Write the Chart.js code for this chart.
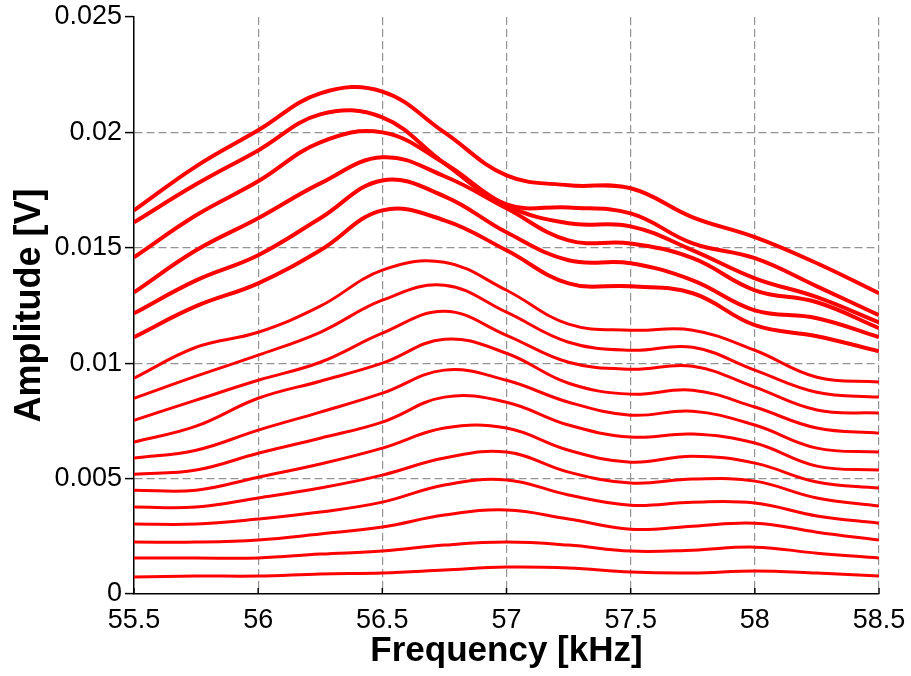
<!DOCTYPE html>
<html>
<head>
<meta charset="utf-8">
<script src="https://cdn.jsdelivr.net/npm/chart.js@4.4.1/dist/chart.umd.min.js"></script>
<style>
  body { margin: 0; background: #fff; }
</style>
</head>
<body>
<canvas id="chartResonancia" width="911" height="676"></canvas>
<script>
// frecuencias de muestreo (kHz) y amplitudes (V)
const freqs = [55.5, 55.75, 56, 56.25, 56.5, 56.75, 57, 57.25, 57.5, 57.75, 58, 58.25, 58.5]

const amp1 = [0.01662, 0.01853, 0.02009, 0.02169, 0.02177, 0.02000, 0.01814, 0.01771, 0.01758, 0.01632, 0.01546, 0.01433, 0.01303]
const amp2 = [0.01610, 0.01775, 0.01922, 0.02078, 0.02065, 0.01866, 0.01688, 0.01675, 0.01649, 0.01519, 0.01455, 0.01333, 0.01208]
const amp3 = [0.01459, 0.01641, 0.01788, 0.01957, 0.02000, 0.01866, 0.01684, 0.01606, 0.01593, 0.01489, 0.01368, 0.01286, 0.01177]
const amp4 = [0.01307, 0.01489, 0.01628, 0.01779, 0.01892, 0.01810, 0.01671, 0.01532, 0.01519, 0.01455, 0.01316, 0.01264, 0.01152]
const amp5 = [0.01216, 0.01359, 0.01468, 0.01628, 0.01792, 0.01723, 0.01567, 0.01446, 0.01433, 0.01359, 0.01229, 0.01195, 0.01113]
const amp6 = [0.01113, 0.01247, 0.01346, 0.01489, 0.01662, 0.01619, 0.01489, 0.01346, 0.01333, 0.01303, 0.01165, 0.01117, 0.01052]
const amp7 = [0.00935, 0.01069, 0.01134, 0.01247, 0.01403, 0.01437, 0.01316, 0.01169, 0.01143, 0.01143, 0.01056, 0.00939, 0.00918]
const amp8 = [0.00848, 0.00944, 0.01035, 0.01134, 0.01273, 0.01338, 0.01221, 0.01091, 0.01056, 0.01069, 0.00970, 0.00874, 0.00853]
const amp9 = [0.00753, 0.00840, 0.00926, 0.01004, 0.01130, 0.01225, 0.01121, 0.01004, 0.00974, 0.00987, 0.00896, 0.00797, 0.00784]
const amp10 = [0.00658, 0.00727, 0.00848, 0.00922, 0.01000, 0.01104, 0.01043, 0.00913, 0.00866, 0.00883, 0.00810, 0.00719, 0.00697]
const amp11 = [0.00589, 0.00623, 0.00710, 0.00788, 0.00870, 0.00970, 0.00926, 0.00831, 0.00775, 0.00792, 0.00732, 0.00632, 0.00615]
const amp12 = [0.00519, 0.00537, 0.00610, 0.00675, 0.00745, 0.00853, 0.00831, 0.00732, 0.00680, 0.00693, 0.00654, 0.00554, 0.00537]
const amp13 = [0.00450, 0.00450, 0.00506, 0.00563, 0.00632, 0.00719, 0.00719, 0.00623, 0.00571, 0.00597, 0.00567, 0.00485, 0.00459]
const amp14 = [0.00377, 0.00377, 0.00416, 0.00459, 0.00515, 0.00589, 0.00615, 0.00528, 0.00481, 0.00498, 0.00489, 0.00416, 0.00381]
const amp15 = [0.00303, 0.00303, 0.00325, 0.00355, 0.00398, 0.00472, 0.00494, 0.00429, 0.00385, 0.00398, 0.00394, 0.00338, 0.00307]
const amp16 = [0.00225, 0.00225, 0.00234, 0.00260, 0.00290, 0.00342, 0.00364, 0.00325, 0.00281, 0.00294, 0.00307, 0.00268, 0.00234]
const amp17 = [0.00156, 0.00156, 0.00156, 0.00173, 0.00186, 0.00212, 0.00225, 0.00212, 0.00186, 0.00190, 0.00203, 0.00177, 0.00156]
const amp18 = [0.00074, 0.00078, 0.00078, 0.00087, 0.00091, 0.00104, 0.00117, 0.00113, 0.00095, 0.00091, 0.00100, 0.00091, 0.00078]

const xTickLabels = ['55.5', '56', '56.5', '57', '57.5', '58', '58.5']
const yTickLabels = ['0', '0.005', '0.01', '0.015', '0.02', '0.025']

const curvas = [amp1, amp2, amp3, amp4, amp5, amp6, amp7, amp8, amp9,
  amp10, amp11, amp12, amp13, amp14, amp15, amp16, amp17, amp18]

const datasets = curvas.map((serie, i) => ({
  data: serie.map((v, j) => ({ x: freqs[j], y: v })),
  borderColor: '#ff0000',
  borderWidth: i < 6 ? 4 : 3,
  pointRadius: 0,
  tension: 0.4,
  fill: false
}))

// marcas cortas hacia dentro en el eje x
const innerTicks = {
  id: 'innerTicks',
  afterDraw(chart) {
    const sx = chart.scales.x
    const ctx = chart.ctx
    ctx.save()
    ctx.strokeStyle = '#000'
    ctx.lineWidth = 1.5
    sx.ticks.forEach(t => {
      const px = sx.getPixelForValue(t.value)
      ctx.beginPath()
      ctx.moveTo(px, sx.top)
      ctx.lineTo(px, sx.top - 6)
      ctx.stroke()
    })
    ctx.restore()
  }
}

const fuente = 'Liberation Sans, Arial, sans-serif'

const ctx = document.getElementById('chartResonancia').getContext('2d')
new Chart(ctx, {
  type: 'line',
  data: { datasets },
  plugins: [innerTicks],
  options: {
    responsive: false,
    animation: false,
    layout: { padding: { top: 17, right: 32, left: 0, bottom: 0 } },
    plugins: {
      legend: { display: false },
      tooltip: { enabled: false }
    },
    scales: {
      x: {
        type: 'linear',
        min: 55.5,
        max: 58.5,
        afterFit: (axis) => {
          axis.height = 82
          axis.paddingLeft = 0
          axis.paddingRight = 0
        },
        ticks: {
          stepSize: 0.5,
          color: '#000',
          padding: 10,
          maxRotation: 0,
          font: { family: fuente, size: 27 },
          callback: (v, i) => xTickLabels[i]
        },
        grid: {
          color: (c) => (c.tick && Math.abs(c.tick.value - 55.5) < 1e-9) ? 'rgba(0,0,0,0)' : '#939393',
          lineWidth: 1.2,
          drawTicks: false
        },
        border: { color: '#000', width: 1.5, dash: [8, 4] },
        title: {
          display: true,
          text: 'Frequency [kHz]',
          color: '#000',
          padding: { top: 0, bottom: 4 },
          font: { family: fuente, size: 35, weight: 'bold' }
        }
      },
      y: {
        min: 0,
        max: 0.025,
        afterFit: (axis) => {
          axis.width = 134
          axis.paddingTop = 0
          axis.paddingBottom = 0
        },
        ticks: {
          stepSize: 0.005,
          color: '#000',
          padding: 3,
          font: { family: fuente, size: 27 },
          callback: (v, i) => yTickLabels[i]
        },
        grid: {
          color: (c) => (c.tick && (c.tick.value < 1e-9 || c.tick.value > 0.02499)) ? 'rgba(0,0,0,0)' : '#939393',
          lineWidth: 1.2,
          drawTicks: true,
          tickLength: 9,
          tickColor: '#000',
          tickWidth: 1.5,
          tickBorderDash: []
        },
        border: { color: '#000', width: 1.5, dash: [8, 4] },
        title: {
          display: true,
          text: 'Amplitude [V]',
          color: '#000',
          padding: { top: 8, bottom: 0 },
          font: { family: fuente, size: 36, weight: 'bold' }
        }
      }
    }
  }
})
</script>
</body>
</html>
